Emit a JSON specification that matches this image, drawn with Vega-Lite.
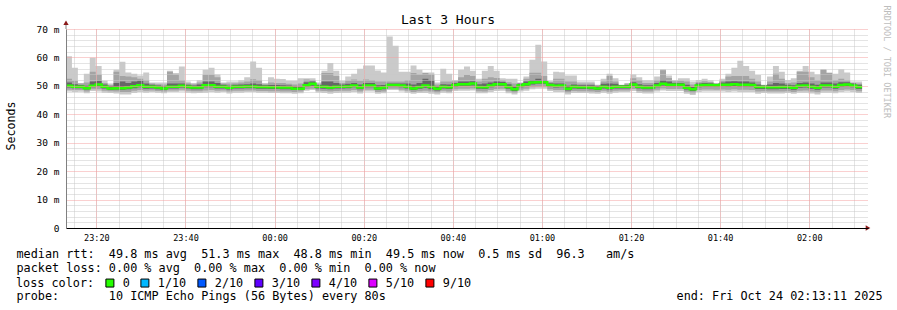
{
  "$schema": "https://vega.github.io/schema/vega-lite/v6.json",
  "width": 802,
  "height": 199,
  "autosize": {"type": "none"},
  "padding": {"left": 66, "top": 29, "right": 29, "bottom": 82},
  "background": "white",
  "config": {"view": {"stroke": null}, "font": "DejaVu Sans Mono"},
  "title": {"text": "Last 3 Hours", "font": "DejaVu Sans Mono", "fontSize": 13, "fontWeight": "normal", "color": "black", "anchor": "middle", "frame": "group", "dx": -19, "dy": 36, "offset": 4, "baseline": "alphabetic"},
  "datasets": {
    "loss": [{"loss": "0"}, {"loss": "1/10"}, {"loss": "2/10"}, {"loss": "3/10"}, {"loss": "4/10"}, {"loss": "5/10"}, {"loss": "9/10"}],
    "smoke": [
      {"t":"2025-10-23T23:13:11Z","m":50.0,"lo":48.0,"hi":60.4,"l2":48.6,"h2":52.5,"l3":49.4,"h3":51.2},
      {"t":"2025-10-23T23:14:31Z","m":49.7,"lo":47.8,"hi":56.4,"l2":48.5,"h2":51.8,"l3":49.2,"h3":50.6},
      {"t":"2025-10-23T23:15:51Z","m":49.7,"lo":47.9,"hi":51.0,"l2":48.5,"h2":50.8,"l3":49.2,"h3":50.3},
      {"t":"2025-10-23T23:17:11Z","m":49.2,"lo":47.4,"hi":54.3,"l2":48.0,"h2":51.2,"l3":48.7,"h3":50.0},
      {"t":"2025-10-23T23:18:31Z","m":50.0,"lo":48.2,"hi":59.9,"l2":48.8,"h2":55.0,"l3":49.5,"h3":51.5},
      {"t":"2025-10-23T23:19:51Z","m":50.5,"lo":48.0,"hi":57.0,"l2":48.8,"h2":54.0,"l3":49.8,"h3":51.8},
      {"t":"2025-10-23T23:21:11Z","m":49.7,"lo":47.6,"hi":51.8,"l2":48.3,"h2":51.0,"l3":49.1,"h3":50.5},
      {"t":"2025-10-23T23:22:31Z","m":49.1,"lo":47.5,"hi":50.8,"l2":48.1,"h2":50.3,"l3":48.6,"h3":49.9},
      {"t":"2025-10-23T23:23:51Z","m":49.2,"lo":47.3,"hi":55.7,"l2":48.0,"h2":55.0,"l3":48.7,"h3":51.0},
      {"t":"2025-10-23T23:25:11Z","m":49.2,"lo":47.0,"hi":58.5,"l2":47.8,"h2":53.5,"l3":48.6,"h3":51.5},
      {"t":"2025-10-23T23:26:31Z","m":49.4,"lo":47.0,"hi":54.7,"l2":47.8,"h2":53.3,"l3":48.8,"h3":51.0},
      {"t":"2025-10-23T23:27:51Z","m":49.9,"lo":47.5,"hi":54.3,"l2":48.3,"h2":53.0,"l3":49.2,"h3":51.5},
      {"t":"2025-10-23T23:29:11Z","m":50.2,"lo":47.8,"hi":53.6,"l2":48.5,"h2":52.5,"l3":49.5,"h3":51.8},
      {"t":"2025-10-23T23:30:31Z","m":49.7,"lo":47.6,"hi":54.7,"l2":48.3,"h2":52.0,"l3":49.0,"h3":50.8},
      {"t":"2025-10-23T23:31:51Z","m":49.7,"lo":47.8,"hi":51.2,"l2":48.4,"h2":50.8,"l3":49.1,"h3":50.4},
      {"t":"2025-10-23T23:33:11Z","m":49.4,"lo":47.6,"hi":51.2,"l2":48.2,"h2":50.6,"l3":48.8,"h3":50.1},
      {"t":"2025-10-23T23:34:31Z","m":49.1,"lo":47.4,"hi":51.2,"l2":48.0,"h2":50.5,"l3":48.6,"h3":49.9},
      {"t":"2025-10-23T23:35:51Z","m":49.7,"lo":47.8,"hi":55.3,"l2":48.4,"h2":55.0,"l3":49.1,"h3":50.8},
      {"t":"2025-10-23T23:37:11Z","m":49.7,"lo":47.8,"hi":54.5,"l2":48.4,"h2":54.0,"l3":49.1,"h3":50.8},
      {"t":"2025-10-23T23:38:31Z","m":50.0,"lo":48.0,"hi":56.8,"l2":48.6,"h2":52.0,"l3":49.4,"h3":50.8},
      {"t":"2025-10-23T23:39:51Z","m":49.7,"lo":47.6,"hi":51.5,"l2":48.3,"h2":50.9,"l3":49.1,"h3":50.4},
      {"t":"2025-10-23T23:41:11Z","m":49.4,"lo":47.4,"hi":51.0,"l2":48.1,"h2":50.6,"l3":48.8,"h3":50.1},
      {"t":"2025-10-23T23:42:31Z","m":49.4,"lo":47.5,"hi":52.0,"l2":48.1,"h2":51.2,"l3":48.8,"h3":50.5},
      {"t":"2025-10-23T23:43:51Z","m":50.2,"lo":47.6,"hi":55.7,"l2":48.4,"h2":53.9,"l3":49.5,"h3":51.5},
      {"t":"2025-10-23T23:45:11Z","m":50.2,"lo":47.8,"hi":56.4,"l2":48.5,"h2":53.9,"l3":49.5,"h3":51.5},
      {"t":"2025-10-23T23:46:31Z","m":49.7,"lo":47.6,"hi":54.0,"l2":48.3,"h2":53.0,"l3":49.1,"h3":51.0},
      {"t":"2025-10-23T23:47:51Z","m":49.7,"lo":47.8,"hi":51.2,"l2":48.4,"h2":50.8,"l3":49.1,"h3":50.4},
      {"t":"2025-10-23T23:49:11Z","m":49.3,"lo":47.3,"hi":51.5,"l2":48.0,"h2":50.8,"l3":48.7,"h3":50.0},
      {"t":"2025-10-23T23:50:31Z","m":49.7,"lo":47.6,"hi":51.5,"l2":48.3,"h2":50.9,"l3":49.1,"h3":50.4},
      {"t":"2025-10-23T23:51:51Z","m":49.7,"lo":47.6,"hi":52.0,"l2":48.3,"h2":51.2,"l3":49.1,"h3":50.5},
      {"t":"2025-10-23T23:53:11Z","m":49.8,"lo":47.8,"hi":53.0,"l2":48.4,"h2":51.5,"l3":49.2,"h3":50.6},
      {"t":"2025-10-23T23:54:31Z","m":49.8,"lo":47.8,"hi":58.6,"l2":48.4,"h2":52.3,"l3":49.2,"h3":50.8},
      {"t":"2025-10-23T23:55:51Z","m":49.6,"lo":47.6,"hi":56.4,"l2":48.2,"h2":52.0,"l3":49.0,"h3":50.6},
      {"t":"2025-10-23T23:57:11Z","m":49.6,"lo":47.6,"hi":51.0,"l2":48.2,"h2":50.6,"l3":49.0,"h3":50.2},
      {"t":"2025-10-23T23:58:31Z","m":49.5,"lo":47.5,"hi":53.0,"l2":48.1,"h2":51.2,"l3":48.9,"h3":50.3},
      {"t":"2025-10-23T23:59:51Z","m":49.5,"lo":47.5,"hi":52.5,"l2":48.1,"h2":51.0,"l3":48.9,"h3":50.3},
      {"t":"2025-10-24T00:01:11Z","m":49.4,"lo":47.4,"hi":52.4,"l2":48.0,"h2":51.0,"l3":48.8,"h3":50.2},
      {"t":"2025-10-24T00:02:31Z","m":49.4,"lo":47.4,"hi":51.8,"l2":48.0,"h2":50.7,"l3":48.8,"h3":50.1},
      {"t":"2025-10-24T00:03:51Z","m":49.0,"lo":47.2,"hi":51.8,"l2":47.8,"h2":50.5,"l3":48.5,"h3":49.8},
      {"t":"2025-10-24T00:05:11Z","m":49.0,"lo":47.4,"hi":52.7,"l2":48.0,"h2":50.8,"l3":48.5,"h3":49.8},
      {"t":"2025-10-24T00:06:31Z","m":50.2,"lo":48.3,"hi":52.7,"l2":48.8,"h2":52.2,"l3":49.6,"h3":51.3},
      {"t":"2025-10-24T00:07:51Z","m":50.7,"lo":48.5,"hi":52.7,"l2":49.0,"h2":52.0,"l3":50.0,"h3":51.5},
      {"t":"2025-10-24T00:09:11Z","m":49.7,"lo":47.7,"hi":51.2,"l2":48.3,"h2":50.7,"l3":49.1,"h3":50.3},
      {"t":"2025-10-24T00:10:31Z","m":49.7,"lo":47.5,"hi":55.3,"l2":48.2,"h2":54.5,"l3":49.0,"h3":51.5},
      {"t":"2025-10-24T00:11:51Z","m":49.4,"lo":47.2,"hi":58.0,"l2":48.0,"h2":54.5,"l3":48.8,"h3":51.5},
      {"t":"2025-10-24T00:13:11Z","m":49.7,"lo":47.5,"hi":55.3,"l2":48.2,"h2":53.5,"l3":49.1,"h3":51.0},
      {"t":"2025-10-24T00:14:31Z","m":49.7,"lo":47.6,"hi":51.8,"l2":48.3,"h2":51.0,"l3":49.1,"h3":50.5},
      {"t":"2025-10-24T00:15:51Z","m":49.8,"lo":47.6,"hi":53.3,"l2":48.3,"h2":51.8,"l3":49.2,"h3":50.7},
      {"t":"2025-10-24T00:17:11Z","m":50.1,"lo":47.8,"hi":54.3,"l2":48.5,"h2":52.2,"l3":49.5,"h3":51.0},
      {"t":"2025-10-24T00:18:31Z","m":49.4,"lo":47.3,"hi":56.0,"l2":48.0,"h2":51.8,"l3":48.8,"h3":50.5},
      {"t":"2025-10-24T00:19:51Z","m":50.1,"lo":48.0,"hi":57.2,"l2":48.6,"h2":52.2,"l3":49.5,"h3":51.0},
      {"t":"2025-10-24T00:21:11Z","m":50.1,"lo":48.0,"hi":57.2,"l2":48.6,"h2":52.0,"l3":49.5,"h3":51.0},
      {"t":"2025-10-24T00:22:31Z","m":49.1,"lo":47.2,"hi":55.4,"l2":47.8,"h2":51.5,"l3":48.5,"h3":50.2},
      {"t":"2025-10-24T00:23:51Z","m":49.4,"lo":47.4,"hi":54.7,"l2":48.0,"h2":51.5,"l3":48.8,"h3":50.3},
      {"t":"2025-10-24T00:25:11Z","m":50.3,"lo":48.5,"hi":67.4,"l2":49.0,"h2":51.5,"l3":49.8,"h3":50.8},
      {"t":"2025-10-24T00:26:31Z","m":50.3,"lo":48.5,"hi":64.1,"l2":49.0,"h2":51.5,"l3":49.8,"h3":50.8},
      {"t":"2025-10-24T00:27:51Z","m":50.1,"lo":48.0,"hi":55.0,"l2":48.6,"h2":51.5,"l3":49.5,"h3":50.8},
      {"t":"2025-10-24T00:29:11Z","m":49.7,"lo":47.6,"hi":55.0,"l2":48.3,"h2":52.0,"l3":49.1,"h3":50.8},
      {"t":"2025-10-24T00:30:31Z","m":49.1,"lo":47.2,"hi":57.2,"l2":47.8,"h2":54.5,"l3":48.5,"h3":50.5},
      {"t":"2025-10-24T00:31:51Z","m":49.6,"lo":47.5,"hi":55.7,"l2":48.1,"h2":54.0,"l3":49.0,"h3":51.0},
      {"t":"2025-10-24T00:33:11Z","m":50.1,"lo":47.5,"hi":54.7,"l2":48.3,"h2":54.5,"l3":49.3,"h3":52.5},
      {"t":"2025-10-24T00:34:31Z","m":49.6,"lo":47.2,"hi":54.7,"l2":48.0,"h2":54.0,"l3":48.8,"h3":52.0},
      {"t":"2025-10-24T00:35:51Z","m":49.0,"lo":47.0,"hi":51.2,"l2":47.6,"h2":50.5,"l3":48.4,"h3":49.8},
      {"t":"2025-10-24T00:37:11Z","m":49.7,"lo":47.6,"hi":56.0,"l2":48.3,"h2":51.5,"l3":49.1,"h3":50.6},
      {"t":"2025-10-24T00:38:31Z","m":49.5,"lo":47.4,"hi":54.3,"l2":48.0,"h2":51.5,"l3":48.9,"h3":50.5},
      {"t":"2025-10-24T00:39:51Z","m":50.3,"lo":48.2,"hi":52.1,"l2":48.8,"h2":51.6,"l3":49.7,"h3":51.0},
      {"t":"2025-10-24T00:41:11Z","m":50.6,"lo":48.3,"hi":55.7,"l2":49.0,"h2":53.0,"l3":50.0,"h3":51.5},
      {"t":"2025-10-24T00:42:31Z","m":50.6,"lo":48.3,"hi":56.8,"l2":49.0,"h2":53.8,"l3":50.0,"h3":51.5},
      {"t":"2025-10-24T00:43:51Z","m":50.8,"lo":48.4,"hi":55.3,"l2":49.1,"h2":53.5,"l3":50.1,"h3":51.6},
      {"t":"2025-10-24T00:45:11Z","m":49.6,"lo":47.4,"hi":52.5,"l2":48.1,"h2":51.5,"l3":49.0,"h3":50.6},
      {"t":"2025-10-24T00:46:31Z","m":49.5,"lo":47.4,"hi":55.3,"l2":48.0,"h2":52.5,"l3":48.9,"h3":50.8},
      {"t":"2025-10-24T00:47:51Z","m":50.1,"lo":47.8,"hi":57.0,"l2":48.5,"h2":53.0,"l3":49.5,"h3":51.2},
      {"t":"2025-10-24T00:49:11Z","m":50.6,"lo":48.2,"hi":55.3,"l2":48.9,"h2":52.8,"l3":50.0,"h3":51.5},
      {"t":"2025-10-24T00:50:31Z","m":50.6,"lo":48.3,"hi":52.7,"l2":49.0,"h2":52.0,"l3":50.0,"h3":51.4},
      {"t":"2025-10-24T00:51:51Z","m":49.6,"lo":47.4,"hi":52.5,"l2":48.1,"h2":51.3,"l3":49.0,"h3":50.6},
      {"t":"2025-10-24T00:53:11Z","m":48.8,"lo":47.0,"hi":52.5,"l2":47.5,"h2":50.8,"l3":48.2,"h3":49.8},
      {"t":"2025-10-24T00:54:31Z","m":50.1,"lo":48.0,"hi":51.2,"l2":48.6,"h2":51.0,"l3":49.5,"h3":50.7},
      {"t":"2025-10-24T00:55:51Z","m":50.6,"lo":48.3,"hi":53.3,"l2":49.0,"h2":52.5,"l3":50.0,"h3":51.5},
      {"t":"2025-10-24T00:57:11Z","m":51.2,"lo":48.8,"hi":59.2,"l2":49.5,"h2":54.6,"l3":50.5,"h3":52.0},
      {"t":"2025-10-24T00:58:31Z","m":51.3,"lo":49.0,"hi":64.5,"l2":49.7,"h2":54.6,"l3":50.7,"h3":52.5},
      {"t":"2025-10-24T00:59:51Z","m":51.3,"lo":49.0,"hi":58.6,"l2":49.7,"h2":53.5,"l3":50.7,"h3":52.0},
      {"t":"2025-10-24T01:01:11Z","m":50.3,"lo":48.2,"hi":51.8,"l2":48.8,"h2":51.4,"l3":49.7,"h3":50.9},
      {"t":"2025-10-24T01:02:31Z","m":50.0,"lo":47.8,"hi":55.0,"l2":48.5,"h2":52.5,"l3":49.4,"h3":50.8},
      {"t":"2025-10-24T01:03:51Z","m":50.1,"lo":47.8,"hi":54.8,"l2":48.5,"h2":52.5,"l3":49.5,"h3":50.8},
      {"t":"2025-10-24T01:05:11Z","m":49.0,"lo":47.0,"hi":53.6,"l2":47.6,"h2":51.5,"l3":48.4,"h3":50.0},
      {"t":"2025-10-24T01:06:31Z","m":49.7,"lo":47.5,"hi":53.6,"l2":48.2,"h2":51.5,"l3":49.1,"h3":50.5},
      {"t":"2025-10-24T01:07:51Z","m":49.5,"lo":47.5,"hi":51.5,"l2":48.1,"h2":50.8,"l3":48.9,"h3":50.2},
      {"t":"2025-10-24T01:09:11Z","m":49.5,"lo":47.5,"hi":51.5,"l2":48.1,"h2":50.8,"l3":48.9,"h3":50.2},
      {"t":"2025-10-24T01:10:31Z","m":49.4,"lo":47.3,"hi":51.5,"l2":48.0,"h2":50.8,"l3":48.8,"h3":50.2},
      {"t":"2025-10-24T01:11:51Z","m":49.1,"lo":47.2,"hi":50.4,"l2":47.8,"h2":50.2,"l3":48.5,"h3":49.9},
      {"t":"2025-10-24T01:13:11Z","m":49.7,"lo":47.6,"hi":52.5,"l2":48.3,"h2":51.5,"l3":49.1,"h3":50.7},
      {"t":"2025-10-24T01:14:31Z","m":49.3,"lo":47.2,"hi":54.3,"l2":47.9,"h2":53.5,"l3":48.7,"h3":50.8},
      {"t":"2025-10-24T01:15:51Z","m":49.7,"lo":47.6,"hi":52.7,"l2":48.3,"h2":51.5,"l3":49.1,"h3":50.7},
      {"t":"2025-10-24T01:17:11Z","m":49.7,"lo":47.8,"hi":50.4,"l2":48.4,"h2":50.3,"l3":49.1,"h3":50.2},
      {"t":"2025-10-24T01:18:31Z","m":49.7,"lo":47.8,"hi":51.0,"l2":48.4,"h2":50.7,"l3":49.1,"h3":50.3},
      {"t":"2025-10-24T01:19:51Z","m":50.5,"lo":48.2,"hi":54.0,"l2":48.9,"h2":52.7,"l3":49.9,"h3":51.3},
      {"t":"2025-10-24T01:21:11Z","m":49.7,"lo":47.5,"hi":53.0,"l2":48.2,"h2":52.0,"l3":49.1,"h3":50.6},
      {"t":"2025-10-24T01:22:31Z","m":49.4,"lo":47.3,"hi":52.0,"l2":48.0,"h2":51.0,"l3":48.8,"h3":50.2},
      {"t":"2025-10-24T01:23:51Z","m":49.4,"lo":47.3,"hi":52.0,"l2":48.0,"h2":51.0,"l3":48.8,"h3":50.2},
      {"t":"2025-10-24T01:25:11Z","m":50.1,"lo":48.0,"hi":53.3,"l2":48.6,"h2":52.0,"l3":49.5,"h3":51.0},
      {"t":"2025-10-24T01:26:31Z","m":50.7,"lo":48.4,"hi":55.8,"l2":49.1,"h2":55.5,"l3":50.1,"h3":52.0},
      {"t":"2025-10-24T01:27:51Z","m":50.4,"lo":48.2,"hi":53.6,"l2":48.9,"h2":52.8,"l3":49.8,"h3":51.5},
      {"t":"2025-10-24T01:29:11Z","m":50.4,"lo":48.2,"hi":52.1,"l2":48.9,"h2":51.6,"l3":49.8,"h3":51.0},
      {"t":"2025-10-24T01:30:31Z","m":50.4,"lo":48.2,"hi":52.7,"l2":48.9,"h2":51.8,"l3":49.8,"h3":51.0},
      {"t":"2025-10-24T01:31:51Z","m":49.3,"lo":47.2,"hi":52.7,"l2":47.9,"h2":51.5,"l3":48.7,"h3":50.4},
      {"t":"2025-10-24T01:33:11Z","m":48.8,"lo":46.8,"hi":51.5,"l2":47.4,"h2":50.5,"l3":48.2,"h3":49.6},
      {"t":"2025-10-24T01:34:31Z","m":50.1,"lo":47.8,"hi":52.1,"l2":48.5,"h2":51.3,"l3":49.5,"h3":50.8},
      {"t":"2025-10-24T01:35:51Z","m":50.3,"lo":48.0,"hi":52.5,"l2":48.7,"h2":51.6,"l3":49.7,"h3":51.0},
      {"t":"2025-10-24T01:37:11Z","m":50.3,"lo":48.0,"hi":52.0,"l2":48.7,"h2":51.4,"l3":49.7,"h3":50.9},
      {"t":"2025-10-24T01:38:31Z","m":50.2,"lo":48.0,"hi":51.0,"l2":48.6,"h2":50.8,"l3":49.6,"h3":50.6},
      {"t":"2025-10-24T01:39:51Z","m":50.4,"lo":48.0,"hi":52.5,"l2":48.7,"h2":51.8,"l3":49.8,"h3":51.2},
      {"t":"2025-10-24T01:41:11Z","m":50.4,"lo":47.8,"hi":54.3,"l2":48.6,"h2":53.3,"l3":49.7,"h3":51.5},
      {"t":"2025-10-24T01:42:31Z","m":50.6,"lo":48.0,"hi":56.4,"l2":48.8,"h2":53.5,"l3":49.9,"h3":51.6},
      {"t":"2025-10-24T01:43:51Z","m":50.4,"lo":47.8,"hi":58.8,"l2":48.6,"h2":53.5,"l3":49.7,"h3":51.5},
      {"t":"2025-10-24T01:45:11Z","m":50.4,"lo":47.8,"hi":57.0,"l2":48.6,"h2":53.5,"l3":49.7,"h3":51.5},
      {"t":"2025-10-24T01:46:31Z","m":50.3,"lo":47.8,"hi":55.3,"l2":48.5,"h2":52.5,"l3":49.6,"h3":51.2},
      {"t":"2025-10-24T01:47:51Z","m":49.6,"lo":47.2,"hi":53.8,"l2":48.0,"h2":51.5,"l3":48.9,"h3":50.5},
      {"t":"2025-10-24T01:49:11Z","m":49.6,"lo":47.5,"hi":50.4,"l2":48.1,"h2":50.3,"l3":48.9,"h3":50.1},
      {"t":"2025-10-24T01:50:31Z","m":49.5,"lo":47.3,"hi":53.3,"l2":48.0,"h2":51.5,"l3":48.8,"h3":50.5},
      {"t":"2025-10-24T01:51:51Z","m":49.5,"lo":47.3,"hi":57.0,"l2":48.0,"h2":54.3,"l3":48.8,"h3":51.0},
      {"t":"2025-10-24T01:53:11Z","m":49.6,"lo":47.3,"hi":55.0,"l2":48.0,"h2":52.5,"l3":48.9,"h3":50.8},
      {"t":"2025-10-24T01:54:31Z","m":49.6,"lo":47.5,"hi":52.1,"l2":48.1,"h2":51.0,"l3":48.9,"h3":50.4},
      {"t":"2025-10-24T01:55:51Z","m":49.3,"lo":47.2,"hi":52.7,"l2":47.8,"h2":51.2,"l3":48.6,"h3":50.2},
      {"t":"2025-10-24T01:57:11Z","m":50.0,"lo":47.6,"hi":55.3,"l2":48.3,"h2":55.0,"l3":49.3,"h3":51.0},
      {"t":"2025-10-24T01:58:31Z","m":50.1,"lo":47.6,"hi":57.0,"l2":48.4,"h2":55.0,"l3":49.4,"h3":51.2},
      {"t":"2025-10-24T01:59:51Z","m":49.7,"lo":47.3,"hi":55.0,"l2":48.0,"h2":53.0,"l3":49.0,"h3":50.8},
      {"t":"2025-10-24T02:01:11Z","m":49.3,"lo":47.0,"hi":54.0,"l2":47.7,"h2":52.0,"l3":48.6,"h3":50.4},
      {"t":"2025-10-24T02:02:31Z","m":50.1,"lo":47.6,"hi":55.8,"l2":48.4,"h2":55.7,"l3":49.4,"h3":51.2},
      {"t":"2025-10-24T02:03:51Z","m":50.1,"lo":47.6,"hi":54.7,"l2":48.4,"h2":54.5,"l3":49.4,"h3":51.2},
      {"t":"2025-10-24T02:05:11Z","m":49.7,"lo":47.4,"hi":54.3,"l2":48.1,"h2":52.0,"l3":49.0,"h3":50.8},
      {"t":"2025-10-24T02:06:31Z","m":50.3,"lo":47.8,"hi":55.8,"l2":48.5,"h2":52.5,"l3":49.6,"h3":51.3},
      {"t":"2025-10-24T02:07:51Z","m":50.5,"lo":48.0,"hi":54.7,"l2":48.7,"h2":52.0,"l3":49.8,"h3":51.3},
      {"t":"2025-10-24T02:09:11Z","m":50.1,"lo":47.8,"hi":51.5,"l2":48.5,"h2":51.0,"l3":49.5,"h3":50.8},
      {"t":"2025-10-24T02:10:31Z","m":49.6,"lo":47.5,"hi":51.5,"l2":48.1,"h2":50.8,"l3":48.9,"h3":50.4},
      {"t":"2025-10-24T02:11:51Z","m":49.6,"lo":47.5,"hi":51.5,"l2":48.1,"h2":50.8,"l3":48.9,"h3":50.4}
    ]
  },
  "layer": [
    {
      "data": {"name": "smoke"},
      "mark": {"type": "area", "interpolate": "step-after", "color": "#cacaca"},
      "encoding": {
        "x": {"field": "t", "type": "temporal", "scale": {"type": "utc", "nice": false},
          "axis": {"orient": "bottom", "title": null, "labels": false, "ticks": false, "domain": false, "grid": true, "gridColor": "#c8c8c8", "gridDash": [1, 1], "gridWidth": 1, "zindex": 1,
            "values": [1761261300000,1761261600000,1761261900000,1761262200000,1761262500000,1761262800000,1761263100000,1761263400000,1761263700000,1761264000000,1761264300000,1761264600000,1761264900000,1761265200000,1761265500000,1761265800000,1761266100000,1761266400000,1761266700000,1761267000000,1761267300000,1761267600000,1761267900000,1761268200000,1761268500000,1761268800000,1761269100000,1761269400000,1761269700000,1761270000000,1761270300000,1761270600000,1761270900000,1761271200000,1761271500000,1761271800000]}},
        "y": {"field": "lo", "type": "quantitative", "scale": {"domain": [0, 70], "nice": false},
          "axis": {"orient": "left", "title": null, "labels": false, "ticks": false, "domain": false, "grid": true, "gridColor": "#c8c8c8", "gridDash": [1, 1], "gridWidth": 1, "values": [2,4,6,8,12,14,16,18,22,24,26,28,32,34,36,38,42,44,46,48,52,54,56,58,62,64,66,68], "zindex": 1}},
        "y2": {"field": "hi"}
      }
    },
    {
      "data": {"name": "smoke"},
      "mark": {"type": "area", "interpolate": "step-after", "color": "#a4a4a4"},
      "encoding": {
        "x": {"field": "t", "type": "temporal",
          "axis": {"orient": "bottom", "format": "%H:%M", "values": [1761261600000,1761262800000,1761264000000,1761265200000,1761266400000,1761267600000,1761268800000,1761270000000,1761271200000], "grid": true, "gridColor": "#f4a0a0", "gridDash": [1, 1], "gridWidth": 1, "domain": true, "domainColor": "black", "domainWidth": 1, "ticks": false, "labelFont": "DejaVu Sans Mono", "labelFontSize": 8.5, "labelColor": "black", "labelPadding": 5, "labelOverlap": false, "labelFlush": false, "zindex": 1,
            "title": ["median rtt:\u00a0\u00a049.8 ms avg\u00a0\u00a051.3 ms max\u00a0\u00a048.8 ms min\u00a0\u00a049.5 ms now\u00a0\u00a00.5 ms sd\u00a0\u00a096.3\u00a0\u00a0\u00a0am/s", "packet loss: 0.00 % avg\u00a0\u00a00.00 % max\u00a0\u00a00.00 % min\u00a0\u00a00.00 % now"],
            "titleFont": "DejaVu Sans Mono", "titleFontSize": 11.8, "titleFontWeight": "normal", "titleColor": "black", "titleAlign": "left", "titleBaseline": "top", "titleX": -50, "titleY": 20.5, "titleLineHeight": 14.2}},
        "y": {"field": "l2", "type": "quantitative",
          "axis": {"orient": "left", "values": [0,10,20,30,40,50,60,70], "labelExpr": "datum.value == 0 ? '0' : datum.value + ' m'", "grid": true, "gridColor": "#f4a0a0", "gridDash": [1, 1], "gridWidth": 1, "domain": true, "domainColor": "#808080", "ticks": false, "labelPadding": 7, "labelFont": "DejaVu Sans Mono", "labelFontSize": 9.5, "labelColor": "black", "zindex": 1,
            "title": "Seconds", "titleFont": "DejaVu Sans Mono", "titleFontSize": 11.6, "titleFontWeight": "normal", "titleColor": "black", "titleX": -55, "titleY": 96.5, "titleAngle": 270, "titleAlign": "center", "titleBaseline": "middle"}},
        "y2": {"field": "h2"}
      }
    },
    {
      "data": {"name": "smoke"},
      "mark": {"type": "area", "interpolate": "step-after", "color": "#666666"},
      "encoding": {
        "x": {"field": "t", "type": "temporal",
          "axis": {"orient": "bottom", "labels": false, "ticks": false, "domain": false, "grid": false, "title": "end: Fri Oct 24 02:13:11 2025", "titleFont": "DejaVu Sans Mono", "titleFontSize": 11.8, "titleFontWeight": "normal", "titleColor": "black", "titleAlign": "right", "titleBaseline": "top", "titleX": 816, "titleY": 62.6}},
        "y": {"field": "l3", "type": "quantitative",
          "axis": {"orient": "right", "labels": false, "ticks": false, "domain": false, "grid": false, "title": "RRDTOOL / TOBI OETIKER", "titleFont": "DejaVu Sans Mono", "titleFontSize": 8.5, "titleFontWeight": "normal", "titleColor": "#bdbdbd", "titleAngle": 90, "titleX": 18, "titleY": -24, "titleAlign": "left", "titleBaseline": "middle"}},
        "y2": {"field": "h3"}
      }
    },
    {
      "data": {"name": "smoke"},
      "mark": {"type": "line", "interpolate": "step-after", "strokeWidth": 2.5, "color": "#26ff00"},
      "encoding": {
        "x": {"field": "t", "type": "temporal",
          "axis": {"orient": "bottom", "labels": false, "ticks": false, "domain": false, "grid": false, "title": "probe:\u00a0\u00a0\u00a0\u00a0\u00a0\u00a0\u00a010 ICMP Echo Pings (56 Bytes) every 80s", "titleFont": "DejaVu Sans Mono", "titleFontSize": 11.8, "titleFontWeight": "normal", "titleColor": "black", "titleAlign": "left", "titleBaseline": "top", "titleX": -50, "titleY": 62.6}},
        "y": {"field": "m", "type": "quantitative", "axis": null}
      }
    },
    {
      "data": {"name": "loss"},
      "mark": {"type": "square", "opacity": 0, "filled": true},
      "encoding": {
        "color": {"field": "loss", "type": "nominal",
          "scale": {"domain": ["0", "1/10", "2/10", "3/10", "4/10", "5/10", "9/10"], "range": ["#26ff00", "#00b8ff", "#0059ff", "#5e00ff", "#7e00ff", "#dd00ff", "#ff0000"]},
          "legend": {"title": "loss color:", "orient": "none", "legendX": -50, "legendY": 248, "direction": "horizontal", "titleOrient": "left", "titleFont": "DejaVu Sans Mono", "titleFontSize": 11.8, "titleFontWeight": "normal", "titleColor": "black", "titlePadding": 9, "labelFont": "DejaVu Sans Mono", "labelFontSize": 11.8, "labelColor": "black", "labelOffset": 7, "columnPadding": 8, "symbolType": "square", "symbolSize": 64, "symbolStrokeColor": "black", "symbolStrokeWidth": 1, "symbolOpacity": 1, "padding": 0}}
      }
    },
    {
      "data": {"values": [{"t": "2025-10-23T23:13:11Z", "a": 70, "b": 72.5}]},
      "mark": {"type": "rule", "color": "#808080", "strokeWidth": 1},
      "encoding": {
        "x": {"field": "t", "type": "temporal", "axis": null},
        "y": {"field": "a", "type": "quantitative", "axis": null},
        "y2": {"field": "b"}
      }
    },
    {
      "data": {"values": [{"t": "2025-10-23T23:13:11Z", "v": 72.2}]},
      "mark": {"type": "point", "shape": "triangle-up", "filled": true, "color": "#8b1a1a", "size": 28, "opacity": 1},
      "encoding": {
        "x": {"field": "t", "type": "temporal", "axis": null},
        "y": {"field": "v", "type": "quantitative", "axis": null}
      }
    },
    {
      "data": {"values": [{"t": "2025-10-24T02:13:11Z", "v": 0}]},
      "mark": {"type": "point", "shape": "triangle-right", "filled": true, "color": "#8b1a1a", "size": 28, "opacity": 1},
      "encoding": {
        "x": {"field": "t", "type": "temporal", "axis": null},
        "y": {"field": "v", "type": "quantitative", "axis": null}
      }
    }
  ],
  "resolve": {"axis": {"x": "independent", "y": "independent"}}
}
